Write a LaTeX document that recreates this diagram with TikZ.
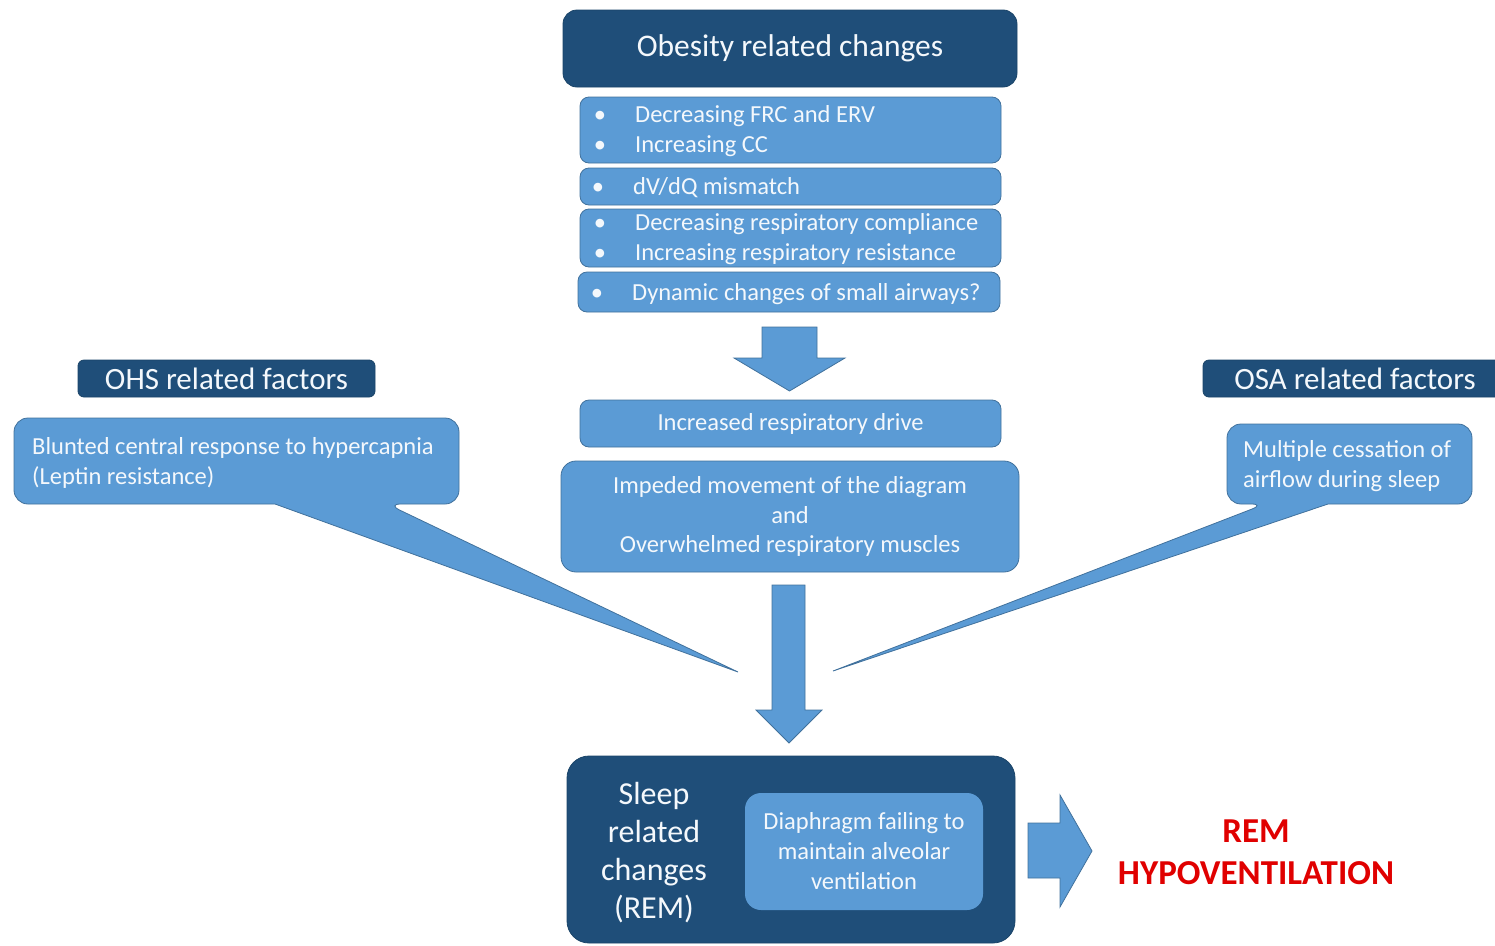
\documentclass[tikz,border=0pt]{standalone}
\usepackage{fontspec}
\setmainfont{Carlito}
\definecolor{dk}{HTML}{1F4E79}
\definecolor{dkb}{HTML}{1A4468}
\definecolor{lt}{HTML}{5B9BD5}
\definecolor{ltb}{HTML}{41719C}
\definecolor{remred}{HTML}{E00000}
\definecolor{txt}{HTML}{F4F8FC}
\begin{document}
\begin{tikzpicture}[x=1pt,y=-1pt,
  lbox/.style={draw=ltb, fill=lt, line width=0.8pt, rounded corners=9pt, inner sep=0pt},
  dbox/.style={draw=dkb, fill=dk, line width=0.8pt, inner sep=0pt},
  shape fill/.style={draw=ltb, fill=lt, line width=0.8pt},
  wtxt/.style={text=txt, inner sep=0pt},
  f22/.style={font=\fontsize{24.5}{29.5}\selectfont},
  f27/.style={font=\fontsize{31}{34}\selectfont},
  bul/.style={wtxt, f22, anchor=base},
  line/.style={wtxt, f22, anchor=base west}
]
\useasboundingbox (0,0) rectangle (1495,945);
\clip (0,0) rectangle (1495,945);

% top title
\node[dbox, rounded corners=14pt, minimum width=454pt, minimum height=77pt,
      wtxt, font=\fontsize{31.5}{34}\selectfont] (obes) at (790,48.5) {Obesity related changes};

% bullet boxes
\node[lbox, minimum width=421pt, minimum height=66pt] (b1) at (790.5,130) {};
\node[bul] (b1a) at (600,122) {•};
\node[line] (b1at) at (635,122) {Decreasing FRC and ERV};
\node[bul] (b1b) at (600,152) {•};
\node[line] (b1bt) at (635,152) {Increasing CC};

\node[lbox, minimum width=421pt, minimum height=37pt] (b2) at (790.5,186.5) {};
\node[bul] (b2a) at (598,194) {•};
\node[line] (b2at) at (633,194) {dV/dQ mismatch};

\node[lbox, minimum width=421pt, minimum height=58pt] (b3) at (790.5,238) {};
\node[bul] (b3a) at (600,230) {•};
\node[line] (b3at) at (635,230) {Decreasing respiratory compliance};
\node[bul] (b3b) at (600,260) {•};
\node[line] (b3bt) at (635,260) {Increasing respiratory resistance};

\node[lbox, minimum width=422pt, minimum height=40pt] (b4) at (789,292) {};
\node[bul] (b4a) at (597,300) {•};
\node[line] (b4at) at (632,300) {Dynamic changes of small airways?};

% arrow 1
\path[shape fill] (762,327) -- (817,327) -- (817,358) -- (845,358) -- (789.5,391)
  -- (734,358) -- (762,358) -- cycle;

% middle boxes
\node[lbox, minimum width=421pt, minimum height=47pt, wtxt, f22] (drive) at (790.5,423.5)
  {Increased respiratory drive};
\node[lbox, rounded corners=15pt, minimum width=458pt, minimum height=111pt, wtxt, f22, align=center]
  (imp) at (790,516.5) {Impeded movement of the diagram\\and\\Overwhelmed respiratory muscles};

% arrow 2
\path[shape fill] (772,585) -- (805,585) -- (805,710) -- (822,710) -- (789,743)
  -- (756,710) -- (772,710) -- cycle;

% OHS
\node[dbox, rounded corners=6pt, minimum width=297pt, minimum height=37pt, wtxt, f27]
  (ohs) at (226.5,378.5) {OHS related factors};
\path[shape fill] (14,461) [rounded corners=14pt] |- (459,418) |- (387,504)
  [sharp corners] -- (738,672) -- (275,504) [rounded corners=14pt] -| (14,461)
  [sharp corners] -- cycle;
\node[line] (ohs1) at (32,454) {Blunted central response to hypercapnia};
\node[line] (ohs2) at (32,484) {(Leptin resistance)};

% OSA
\node[dbox, rounded corners=6pt, minimum width=302pt, minimum height=37pt]
  (osa) at (1354,378.5) {};
\node[wtxt, f27] (osat) at (1355,378.5) {OSA related factors};
\path[shape fill] (1472,464) [rounded corners=14pt] |- (1227,424) |- (1265,504)
  [sharp corners] -- (833,671) -- (1328,504) [rounded corners=14pt] -| (1472,464)
  [sharp corners] -- cycle;
\node[line] (osa1) at (1243,457) {Multiple cessation of};
\node[line] (osa2) at (1243,487) {airflow during sleep};

% bottom box
\node[dbox, rounded corners=22pt, minimum width=448pt, minimum height=187pt] (sleep) at (791,849.5) {};
\node[wtxt, font=\fontsize{32}{38}\selectfont, align=center] (sleept) at (654,853)
  {Sleep\\related\\changes\\(REM)};
\node[fill=lt, draw=none, rounded corners=16pt, minimum width=238pt, minimum height=117pt,
      inner sep=0pt, wtxt, font=\fontsize{24.5}{30}\selectfont, align=center] (dia) at (864,851.5)
  {Diaphragm failing to\\maintain alveolar\\ventilation};

% arrow 3
\path[shape fill] (1028,823) -- (1060,823) -- (1060,795) -- (1092,851) -- (1060,907)
  -- (1060,878) -- (1028,878) -- cycle;

\node[text=remred, font=\fontsize{35}{42}\selectfont\bfseries, align=center, inner sep=0pt]
  (rem) at (1256,852) {REM\\HYPOVENTILATION};
\end{tikzpicture}
\end{document}
